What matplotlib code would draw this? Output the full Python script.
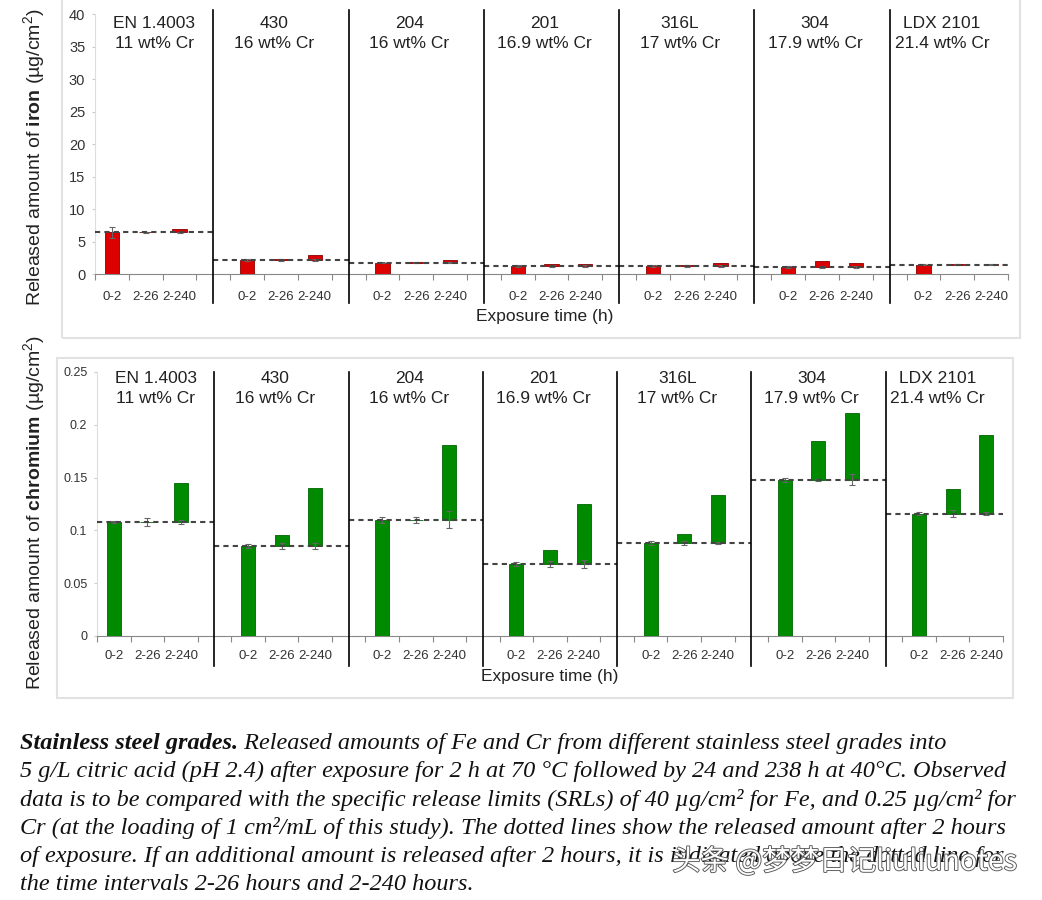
import matplotlib
matplotlib.use("Agg")
import matplotlib.pyplot as plt
import matplotlib.patheffects as pe
from matplotlib.patches import Rectangle
import numpy as np

plt.rcParams['font.family'] = ['Liberation Sans', 'DejaVu Sans']
plt.rcParams['mathtext.fontset'] = 'custom'
plt.rcParams['mathtext.rm'] = 'Liberation Sans'
plt.rcParams['mathtext.bf'] = 'Liberation Sans:bold'

# steel grades and their chromium content
grades = ['EN 1.4003', '430', '204', '201', '316L', '304', 'LDX 2101']
cr_content = ['11 wt% Cr', '16 wt% Cr', '16 wt% Cr', '16.9 wt% Cr',
              '17 wt% Cr', '17.9 wt% Cr', '21.4 wt% Cr']
intervals = ['0-2', '2-26', '2-240']

# iron, ug/cm2 : released after 2 h, and cumulative totals after 26 h and 240 h
fe_2h = [6.4, 2.15, 1.75, 1.23, 1.23, 1.08, 1.44]
fe_26h = [6.45, 2.25, 1.8, 1.5, 1.35, 2.0, 1.6]
fe_240h = [7.0, 3.0, 2.2, 1.6, 1.7, 1.7, 1.6]
fe_err_2h = [0.9, 0.1, 0.1, 0.1, 0.1, 0.1, 0.1]
fe_err_26h = [0.1, 0.1, 0.1, 0.1, 0.1, 0.1, 0.1]
fe_err_240h = [0.1, 0.1, 0.1, 0.2, 0.1, 0.1, 0.1]

# chromium, ug/cm2
cr_2h = [0.108, 0.0855, 0.110, 0.068, 0.088, 0.148, 0.116]
cr_26h = [0.108, 0.0955, 0.110, 0.081, 0.0965, 0.1846, 0.139]
cr_240h = [0.145, 0.140, 0.181, 0.125, 0.1335, 0.211, 0.190]
cr_err_2h = [0.001, 0.002, 0.003, 0.002, 0.002, 0.002, 0.001]
cr_err_26h = [0.004, 0.003, 0.003, 0.003, 0.002, 0.001, 0.003]
cr_err_240h = [0.002, 0.003, 0.008, 0.004, 0.001, 0.005, 0.001]

caption_bold = 'Stainless steel grades.'
caption_lines = [
    ' Released amounts of Fe and Cr from different stainless steel grades into',
    '5 g/L citric acid (pH 2.4) after exposure for 2 h at 70 °C followed by 24 and 238 h at 40°C. Observed',
    'data is to be compared with the specific release limits (SRLs) of 40 µg/cm² for Fe, and 0.25 µg/cm² for',
    'Cr (at the loading of 1 cm²/mL of this study). The dotted lines show the released amount after 2 hours',
    'of exposure. If an additional amount is released after 2 hours, it is indicated above the dotted line for',
    'the time intervals 2-26 hours and 2-240 hours.',
]
watermark = '头条 @梦梦日记liuliunotes'

W, H = 1042, 900
NCAT = 27


def draw_panel(ax, first, cum26, cum240, e2, e26, e240, color, edge,
               ymax, yticks, yticklabels, head_y, sep_top, sep_bot, label_pad):
    n = len(first)
    first = np.array(first)
    cum26 = np.array(cum26)
    cum240 = np.array(cum240)
    g = np.arange(n)
    x0 = 4 * g + 0.5
    x1 = 4 * g + 1.5
    x2 = 4 * g + 2.5
    bw = 0.42
    ax.bar(x0, first, width=bw, color=color, edgecolor=edge, lw=0.6, zorder=3)
    ax.bar(x1, cum26 - first, bottom=first, width=bw, color=color, edgecolor=edge, lw=0.6, zorder=3)
    ax.bar(x2, cum240 - first, bottom=first, width=bw, color=color, edgecolor=edge, lw=0.6, zorder=3)
    ekw = dict(fmt='none', ecolor='#666666', elinewidth=0.8, capsize=2, capthick=0.8, zorder=4)
    ax.errorbar(x0, first, yerr=e2, **ekw)
    ax.errorbar(x1, first, yerr=e26, **ekw)
    ax.errorbar(x2, first, yerr=e240, **ekw)

    for i in range(n):
        left = max(4 * i - 0.5, 0)
        right = min(4 * i + 3.5, NCAT)
        ax.hlines(first[i], left, right, colors='#444444', lw=1.5,
                  linestyles=(0, (2.5, 2)), zorder=5)
        cx = (left + right) / 2 - (0.2 if i else 0)
        ax.text(cx, head_y, grades[i] + '\n' + cr_content[i], ha='center', va='center',
                fontsize=12.5, color='#222222', linespacing=1.4)
        if i:
            ax.plot([4 * i - 0.5] * 2, [sep_top, sep_bot], color='black', lw=1.2,
                    clip_on=False, zorder=6)

    ax.set_xlim(0, NCAT)
    ax.set_ylim(0, ymax)
    ax.set_xticks(np.arange(0, NCAT + 1))
    ax.set_xticklabels([])
    centers = np.sort(np.concatenate([x0, x1, x2]))
    ax.set_xticks(centers, minor=True)
    ax.set_xticklabels(intervals * n, minor=True)
    ax.tick_params(axis='x', which='major', length=4, color='#888888', direction='out')
    ax.tick_params(axis='x', which='minor', length=0, pad=label_pad, labelsize=9.5,
                   labelcolor='#333333')
    ax.set_yticks(yticks)
    ax.set_yticklabels(yticklabels)
    ax.tick_params(axis='y', length=2, color='#cccccc', labelsize=10.5, labelcolor='#333333', pad=5)
    for s in ['top', 'right']:
        ax.spines[s].set_visible(False)
    ax.spines['left'].set_color('#dddddd')
    ax.spines['bottom'].set_color('#888888')


fig = plt.figure(figsize=(W / 100, H / 100), dpi=100)

# light panel frames
fig.add_artist(Rectangle((62 / W, 1 - 338 / H), (1020 - 62) / W, 0.4, transform=fig.transFigure,
                         fill=False, edgecolor='#e2e2e2', lw=1.5))
fig.add_artist(Rectangle((57 / W, 1 - 698 / H), (1013 - 57) / W, (698 - 358) / H,
                         transform=fig.transFigure, fill=False, edgecolor='#e2e2e2', lw=1.5))

ax1 = fig.add_axes([95 / W, 1 - 274 / H, (1008 - 95) / W, 260 / H])
draw_panel(ax1, fe_2h, fe_26h, fe_240h, fe_err_2h, fe_err_26h, fe_err_240h,
           '#dd0000', '#8b0000', 40, np.arange(0, 41, 5), [str(v) for v in range(0, 41, 5)],
           37.0, 40.6, -4.5, 12)

ax2 = fig.add_axes([97 / W, 1 - 636 / H, (1003 - 97) / W, 264 / H])
draw_panel(ax2, cr_2h, cr_26h, cr_240h, cr_err_2h, cr_err_26h, cr_err_240h,
           '#008a00', '#006400', 0.25, [0, 0.05, 0.1, 0.15, 0.2, 0.25],
           ['0', '0.05', '0.1', '0.15', '0.2', '0.25'],
           0.2345, 0.25, -0.028, 10)
ax2.tick_params(axis='y', labelsize=9)

fig.text(545 / W, 1 - 316 / H, 'Exposure time (h)', ha='center', va='center', fontsize=12.5,
         color='#222222')
fig.text(550 / W, 1 - 676 / H, 'Exposure time (h)', ha='center', va='center', fontsize=12.5,
         color='#222222')
fig.text(35 / W, 1 - 157 / H, r'Released amount of $\mathbf{iron}$ (µg/cm$^{2}$)',
         rotation=90, ha='center', va='center', fontsize=14, color='#222222')
fig.text(35 / W, 1 - 512 / H, r'Released amount of $\mathbf{chromium}$ (µg/cm$^{2}$)',
         rotation=90, ha='center', va='center', fontsize=14, color='#222222')

# caption with bold-italic lead
cap_kw = dict(family='Liberation Serif', style='italic', fontsize=17.5, color='#111111',
              va='baseline', ha='left')
t0 = fig.text(20 / W, 1 - 749 / H, caption_bold, weight='bold', **cap_kw)
fig.canvas.draw()
bb = t0.get_window_extent()
fig.text(bb.x1 / W, 1 - 749 / H, caption_lines[0], **cap_kw)
for i, line in enumerate(caption_lines[1:], start=1):
    fig.text(20 / W, 1 - (749 + 28.3 * i) / H, line, **cap_kw)

fig.text(672 / W, 1 - 862 / H, watermark, family=['Noto Sans CJK SC', 'DejaVu Sans'],
         fontsize=20.5, color='white', va='center', ha='left',
         path_effects=[pe.withStroke(linewidth=1.3, foreground='#555555')])

fig.savefig('out.png', dpi=100)
